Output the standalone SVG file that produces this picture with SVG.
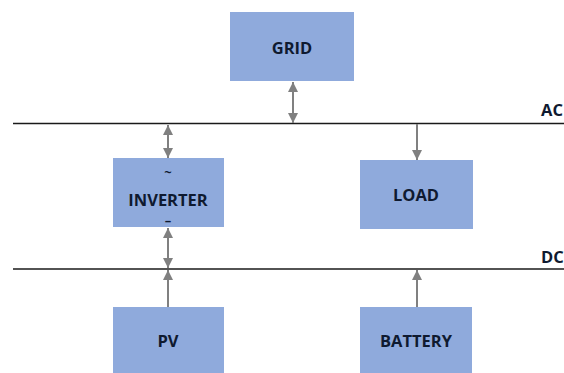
<svg xmlns="http://www.w3.org/2000/svg" width="564" height="373" viewBox="0 0 564 373">
<style>
.box{fill:#8faadc;}
.lbl{font-family:"Open Sans","Liberation Sans",sans-serif;font-weight:bold;font-size:16.5px;fill:#0f1a30;text-anchor:middle;}
.sym{font-size:13px;}
.bus{stroke:#1a1a1a;stroke-width:1.6;fill:none;}
.conn{stroke:#808080;stroke-width:2;fill:none;}
</style>
<defs>
<marker id="ah" viewBox="0 0 10 10" refX="10" refY="5" markerWidth="5" markerHeight="5" orient="auto-start-reverse" markerUnits="strokeWidth">
<path d="M0,0 L10,5 L0,10 z" fill="#808080"/>
</marker>
</defs>
<rect width="564" height="373" fill="#fff"/>
<g id="buses">
<line class="bus" x1="13" y1="123.5" x2="564" y2="123.5"/>
<line class="bus" x1="13" y1="269" x2="564" y2="269"/>
<text class="lbl" x="541" y="116" style="text-anchor:start">AC</text>
<text class="lbl" x="541" y="263" style="text-anchor:start">DC</text>
</g>
<g id="connectors">
<line class="conn" x1="293" y1="82" x2="293" y2="123" marker-start="url(#ah)" marker-end="url(#ah)"/>
<line class="conn" x1="168" y1="125" x2="168" y2="158" marker-start="url(#ah)" marker-end="url(#ah)"/>
<line class="conn" x1="168" y1="228" x2="168" y2="268" marker-start="url(#ah)" marker-end="url(#ah)"/>
<line class="conn" x1="417" y1="124" x2="417" y2="160" marker-end="url(#ah)"/>
<line class="conn" x1="168" y1="307" x2="168" y2="270" marker-end="url(#ah)"/>
<line class="conn" x1="417" y1="307" x2="417" y2="270" marker-end="url(#ah)"/>
</g>
<g id="grid">
<rect class="box" x="230" y="12" width="124" height="69"/>
<text class="lbl" x="292" y="53.5">GRID</text>
</g>
<g id="inverter">
<rect class="box" x="113" y="158" width="111" height="69"/>
<text class="lbl sym" x="168" y="177">~</text>
<text class="lbl" x="168" y="205.5">INVERTER</text>
<text class="lbl sym" x="168" y="225">–</text>
</g>
<g id="load">
<rect class="box" x="360" y="160" width="113" height="69"/>
<text class="lbl" x="416" y="200.5">LOAD</text>
</g>
<g id="pv">
<rect class="box" x="113" y="307" width="111" height="66"/>
<text class="lbl" x="168" y="347">PV</text>
</g>
<g id="battery">
<rect class="box" x="360" y="307" width="112" height="66"/>
<text class="lbl" x="416" y="347">BATTERY</text>
</g>
</svg>
